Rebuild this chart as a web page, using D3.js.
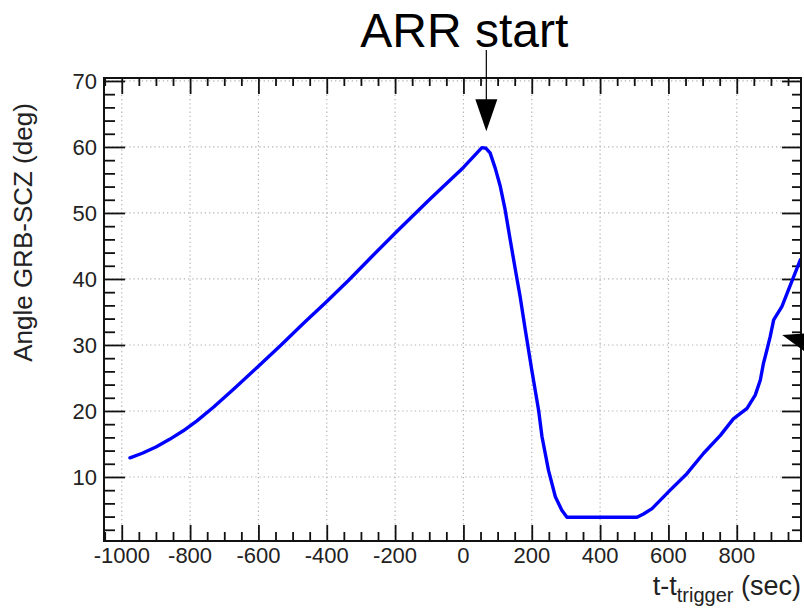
<!DOCTYPE html>
<html>
<head>
<meta charset="utf-8">
<script src="https://cdn.jsdelivr.net/npm/d3@7"></script>
<style>
  html, body { margin: 0; padding: 0; background: #fff; }
  svg { display: block; font-family: "Liberation Sans", Arial, Helvetica, sans-serif; }
</style>
</head>
<body>
<svg id="chart" width="804" height="608"></svg>
<script>
// ---- data ----
const timeSec = [-976, -940, -900, -860, -820, -780, -731, -673, -604, -536, -468, -400, -336, -270, -195, -100, 0, 54, 66, 78, 93, 108, 122, 137, 152, 166, 181, 200, 220, 230, 249, 269, 288, 303, 508, 527, 552, 605, 654, 703, 752, 790, 830, 854, 869, 878, 888, 898, 908, 932, 951, 986];
const angleDeg = [12.9, 13.6, 14.55, 15.7, 17.0, 18.5, 20.6, 23.3, 26.6, 29.9, 33.3, 36.6, 39.8, 43.3, 47.2, 52.0, 56.9, 59.9, 59.8, 59.1, 56.8, 54.0, 50.5, 45.9, 41.4, 37.3, 32.3, 26.2, 20.1, 16.1, 11.0, 7.0, 4.95, 3.9, 3.9, 4.4, 5.2, 8.0, 10.5, 13.6, 16.3, 18.8, 20.4, 22.4, 24.7, 27.2, 29.2, 31.3, 33.8, 35.8, 38.3, 42.9];
const xMajorTicks = [-1000, -800, -600, -400, -200, 0, 200, 400, 600, 800];
const yMajorTicks = [10, 20, 30, 40, 50, 60, 70];
const xDomain = [-1052, 988];
const yDomain = [0.3, 70.45];
const annotationText = "ARR start";
const arrowTip = [67, 62.4];      // data coords of "ARR start" arrow tip
const arrow2Tip = [933, 31.5];    // data coords of the second (cut-off) arrow tip

// ---- layout ----
const svg = d3.select("#chart");
const L = 104, R = 801, T = 78, B = 541;
const x = d3.scaleLinear().domain(xDomain).range([L, R]);
const y = d3.scaleLinear().domain(yDomain).range([B, T]);

const xMinor = d3.range(-1050, xDomain[1], 50).filter(v => !xMajorTicks.includes(v));
const yMinor = d3.range(2, yDomain[1], 2).filter(v => !yMajorTicks.includes(v));

// grid
const grid = svg.append("g").attr("stroke", "#b4b4b4").attr("stroke-width", 1.2).attr("stroke-dasharray", "1.3,2.9");
grid.selectAll(".gx").data(xMajorTicks).enter().append("line")
  .attr("x1", d => x(d)).attr("x2", d => x(d)).attr("y1", T).attr("y2", B);
grid.selectAll(".gy").data(yMajorTicks).enter().append("line")
  .attr("x1", L).attr("x2", R).attr("y1", d => y(d)).attr("y2", d => y(d));

// axes using d3 axis generators (ticks inward)
const tickStyle = g => { g.select(".domain").remove(); g.selectAll("line").attr("stroke", "#111").attr("stroke-width", 1.8); g.selectAll("text").remove(); };

svg.append("g").attr("transform", `translate(0,${B})`).call(d3.axisTop(x).tickValues(xMajorTicks).tickSize(16)).call(tickStyle);
svg.append("g").attr("transform", `translate(0,${B})`).call(d3.axisTop(x).tickValues(xMinor).tickSize(9)).call(tickStyle);
svg.append("g").attr("transform", `translate(0,${T})`).call(d3.axisBottom(x).tickValues(xMajorTicks).tickSize(16)).call(tickStyle);
svg.append("g").attr("transform", `translate(0,${T})`).call(d3.axisBottom(x).tickValues(xMinor).tickSize(8)).call(tickStyle);
svg.append("g").attr("transform", `translate(${L},0)`).call(d3.axisRight(y).tickValues(yMajorTicks).tickSize(21)).call(tickStyle);
svg.append("g").attr("transform", `translate(${L},0)`).call(d3.axisRight(y).tickValues(yMinor).tickSize(11)).call(tickStyle);
svg.append("g").attr("transform", `translate(${R},0)`).call(d3.axisLeft(y).tickValues(yMajorTicks).tickSize(19)).call(tickStyle);
svg.append("g").attr("transform", `translate(${R},0)`).call(d3.axisLeft(y).tickValues(yMinor).tickSize(9)).call(tickStyle);

// tick labels
svg.append("g").selectAll("text").data(xMajorTicks).enter().append("text")
  .attr("x", d => x(d)).attr("y", 563).attr("text-anchor", "middle")
  .attr("font-size", 22).attr("fill", "#222").text(d => d);
svg.append("g").selectAll("text").data(yMajorTicks).enter().append("text")
  .attr("x", 97).attr("y", d => y(d)).attr("dy", "0.36em").attr("text-anchor", "end")
  .attr("font-size", 22).attr("fill", "#222").text(d => d);

// clip + data line
svg.append("clipPath").attr("id", "clip").append("rect").attr("x", L).attr("y", T).attr("width", R - L).attr("height", B - T);
const pts = timeSec.map((t, i) => [t, angleDeg[i]]);
svg.append("path").datum(pts).attr("clip-path", "url(#clip)")
  .attr("fill", "none").attr("stroke", "#0000ff").attr("stroke-width", 3.4)
  .attr("stroke-linejoin", "round").attr("stroke-linecap", "round")
  .attr("d", d3.line().x(d => x(d[0])).y(d => y(d[1])));

// frame
svg.append("rect").attr("x", L).attr("y", T).attr("width", R - L).attr("height", B - T)
  .attr("fill", "none").attr("stroke", "#111").attr("stroke-width", 2);

// axis titles
svg.append("text").attr("transform", `translate(32,${(362 + 103) / 2}) rotate(-90)`)
  .attr("text-anchor", "middle").attr("font-size", 26).attr("fill", "#222")
  .text("Angle GRB-SCZ (deg)");
const xt = svg.append("text").attr("x", 801).attr("y", 595).attr("text-anchor", "end")
  .attr("font-size", 27).attr("fill", "#222");
xt.append("tspan").text("t-t");
xt.append("tspan").attr("font-size", 20).attr("dy", 7).text("trigger");
xt.append("tspan").attr("dy", -7).text(" (sec)");

// annotation "ARR start"
const ax = x(arrowTip[0]), ay = y(arrowTip[1]);
svg.append("text").attr("x", ax - 22).attr("y", 47).attr("text-anchor", "middle")
  .attr("font-size", 48).attr("fill", "#000").text(annotationText);
svg.append("line").attr("x1", ax).attr("x2", ax).attr("y1", 50).attr("y2", ay - 20)
  .attr("stroke", "#000").attr("stroke-width", 1.2);
svg.append("path").attr("fill", "#000")
  .attr("d", `M${ax},${ay} L${ax - 11},${ay - 32} L${ax + 11},${ay - 32} Z`);

// second arrow head (cut at right edge)
const bx = x(arrow2Tip[0]), by = y(arrow2Tip[1]);
svg.append("path").attr("fill", "#000")
  .attr("d", `M${bx},${by} L${bx + 30},${by - 2} L${bx + 30},${by + 22} Z`);
</script>
</body>
</html>
